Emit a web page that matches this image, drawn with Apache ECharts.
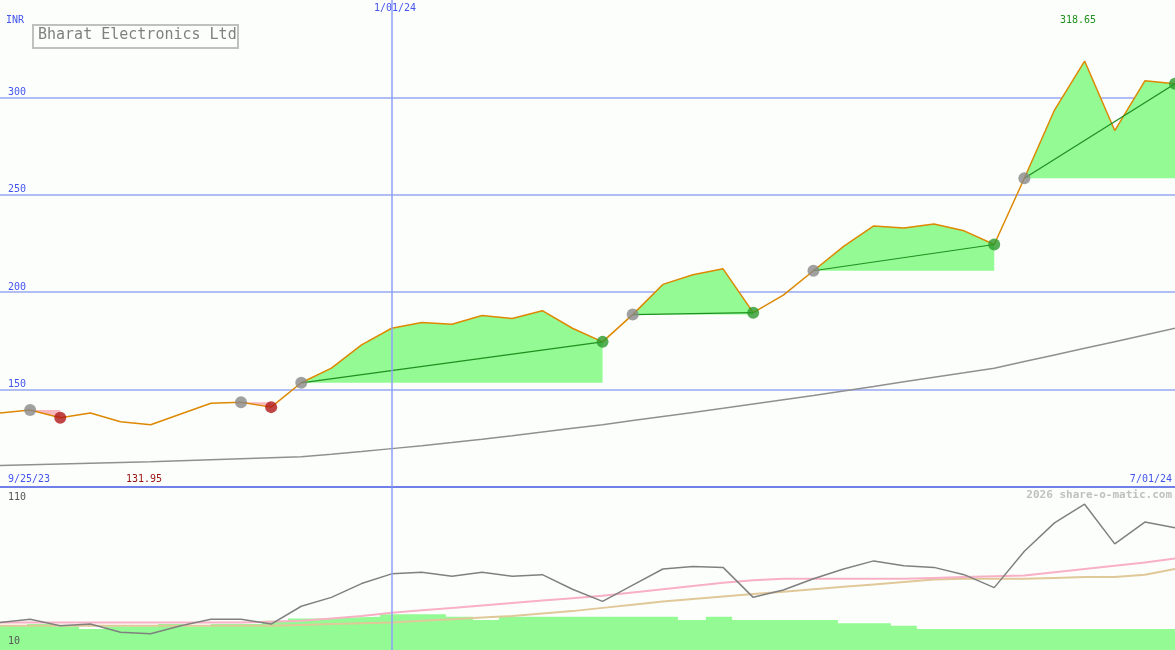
<!DOCTYPE html>
<html><head><meta charset="utf-8">
<script src="https://cdn.jsdelivr.net/npm/echarts@6/dist/echarts.min.js"></script>
<style>html,body{margin:0;background:#fcfefc}#c{width:1175px;height:650px}</style>
</head><body><div id="c"></div>
<script>
// weekly closes, 9/25/23 .. 7/01/24
var price = [138,139.5,135.5,138,133.5,131.95,137.5,143,143.5,141,153.5,161,173,181.5,184.5,183.5,188,186.5,190.5,181.5,
  174.5,188.5,204,209,212,189.5,198.5,211,223.5,234,233,235,231.5,224.5,258.5,293.5,318.65,283,308.5,307];
var longAvg = [111,111.4,111.8,112.2,112.6,113,113.5,114,114.5,115,115.5,116.8,118.2,119.7,121.2,122.8,124.5,126.3,128.2,130.1,
  132,134.1,136.2,138.3,140.4,142.6,144.8,147,149.3,151.6,154,156.3,158.6,161,164.4,167.8,171.2,174.6,178,181.5];
var trades = [[1,2],[8,9],[10,20],[21,25],[27,33],[34,39]];
var osc = [27,29,25,26,21,20,25,29,29,26,37,42.5,51,57,58,55.5,58,55.5,56.5,47.5,40,50,60,61.5,61,42.5,47,54,60,65,62,61,56.5,48.5,71,88.5,100,75.5,89,85.5];
var oscFast = [27,27,27,27,27,27,27,27,27,27.5,28,29.5,31,33,34.5,36,37.5,39,40.5,42,43.5,45.5,47.5,49.5,51.5,53,54,54,54,54,54,54.5,55,55.5,56,58,60,62,64,66.5];
var oscSlow = [25,25,25,25,25,25,25,25,25,25,25.5,26,26.5,27,28,29,30,31,32.5,34,36,38,40,41.5,43,44.5,46,47.5,49,50.5,52,53.5,54,54,54,54.5,55,55,56.5,60];
var volX = [0,0.9,1.73,2.62,3.48,5.24,6.07,7.0,8.7,9.56,10.42,12.61,14.8,15.7,16.56,22.5,23.43,24.3,27.81,29.57,30.43,33.95,39];
var volV = [25,24.5,26,24.5,23,24.5,26,24.5,26,28,29.5,30.5,32,30.5,28.5,30.5,28.5,30.5,28.5,26.5,25,23,23];
var dateLabels = ['9/25/23','1/01/24','7/01/24'];
var markIndex = 13;

var chart = echarts.init(document.getElementById('c'));
var F = 'DejaVu Sans Mono';
var pts = function (arr) { return arr.map(function (v, i) { return [i, v]; }); };

var series = [];
// shaded area between the price and the entry level of each trade
series.push({
  type: 'custom', data: trades, silent: true, z: 1,
  renderItem: function (params, api) {
    var s = api.value(0), e = api.value(1), base = price[s], win = price[e] > base;
    var poly = [api.coord([s, base])];
    for (var i = s; i <= e; i++) poly.push(api.coord([i, price[i]]));
    poly.push(api.coord([e, base]));
    return {type: 'polygon', shape: {points: poly}, style: {fill: win ? '#94fa94' : '#f8b8c0'}};
  }
});
series.push({type: 'line', data: pts(longAvg), symbol: 'none', lineStyle: {color: '#909090', width: 1.5}});
series.push({type: 'line', data: pts(price), symbol: 'none', lineStyle: {color: '#dd8800', width: 1.5},
  markLine: {symbol: 'none', silent: true, label: {show: false}, lineStyle: {color: '#8f9ff8', type: 'solid', width: 1.5, opacity: 1},
    data: [{xAxis: markIndex}]}});
trades.forEach(function (t) {
  var s = t[0], e = t[1], win = price[e] > price[s];
  if (win) series.push({type: 'line', data: [[s, price[s]], [e, price[e]]], symbol: 'none', lineStyle: {color: '#1f8f1f', width: 1.2}});
  series.push({type: 'scatter', data: [[s, price[s]]], symbolSize: 12, itemStyle: {color: '#888888'}, z: 5});
  series.push({type: 'scatter', data: [[e, price[e]]], symbolSize: 12, itemStyle: {color: win ? '#2a9a2a' : '#b01818'}, z: 5});
});
// lower panel
series.push({type: 'line', xAxisIndex: 1, yAxisIndex: 1, step: 'start', data: volX.map(function (x, i) { return [x, volV[i]]; }),
  symbol: 'none', lineStyle: {opacity: 0}, areaStyle: {color: '#94fa94', opacity: 1}});
series.push({type: 'line', xAxisIndex: 1, yAxisIndex: 1, data: pts(oscSlow), symbol: 'none', lineStyle: {color: '#e0c898', width: 2}});
series.push({type: 'line', xAxisIndex: 1, yAxisIndex: 1, data: pts(oscFast), symbol: 'none', lineStyle: {color: '#f8b0c4', width: 2}});
series.push({type: 'line', xAxisIndex: 1, yAxisIndex: 1, data: pts(osc), symbol: 'none', lineStyle: {color: '#808080', width: 1.5},
  markLine: {symbol: 'none', silent: true, label: {show: false}, lineStyle: {color: '#8f9ff8', type: 'solid', width: 1.5, opacity: 1},
    data: [{xAxis: markIndex}]}});

var maxP = Math.max.apply(null, price), minP = Math.min.apply(null, price);

option = {
  backgroundColor: '#fcfefc',
  animation: false,
  grid: [{left: 0, right: 0, top: 0, height: 487}, {left: 0, right: 0, top: 488, bottom: 0}],
  xAxis: [
    {type: 'value', min: 0, max: 39, axisLine: {lineStyle: {color: '#7080e8', width: 2}}, axisTick: {show: false},
      axisLabel: {show: false}, splitLine: {show: false}},
    {type: 'value', gridIndex: 1, min: 0, max: 39, show: false}
  ],
  yAxis: [
    {type: 'value', min: 100, max: 350, interval: 50, axisLine: {show: false}, axisTick: {show: false},
      splitLine: {showMaxLine: false, showMinLine: false, lineStyle: {color: '#98a8f4', width: 1.5}},
      axisLabel: {inside: true, verticalAlign: 'bottom', margin: 8, color: '#4455ee', fontFamily: F, fontSize: 10,
        showMinLabel: false, showMaxLabel: false}},
    {type: 'value', gridIndex: 1, min: 10, max: 110, show: false}
  ],
  graphic: [
    {type: 'text', z: 100, left: 6, top: 15, style: {text: 'INR', fill: '#4455ee', font: '10px ' + F}},
    {type: 'rect', z: 100, shape: {x: 33, y: 25, width: 205, height: 23}, style: {fill: '#fcfefc', stroke: '#c0c0c0', lineWidth: 2}},
    {type: 'text', z: 101, left: 38, top: 28, style: {text: 'Bharat Electronics Ltd', fill: '#808080', font: '15px ' + F}},
    {type: 'text', z: 100, left: 374, top: 3, style: {text: dateLabels[1], fill: '#4455ee', font: '10px ' + F}},
    {type: 'text', z: 100, left: 8, top: 474, style: {text: dateLabels[0], fill: '#4455ee', font: '10px ' + F}},
    {type: 'text', z: 100, right: 3, top: 474, style: {text: dateLabels[2], fill: '#4455ee', font: '10px ' + F}},
    {type: 'text', z: 100, left: 126, top: 474, style: {text: minP.toFixed(2), fill: '#991111', font: '10px ' + F}},
    {type: 'text', z: 100, left: 1060, top: 15, style: {text: maxP.toFixed(2), fill: '#1f8f1f', font: '10px ' + F}},
    {type: 'text', z: 100, left: 8, top: 492, style: {text: '110', fill: '#555555', font: '10px ' + F}},
    {type: 'text', z: 100, left: 8, top: 636, style: {text: '10', fill: '#555555', font: '10px ' + F}},
    {type: 'text', z: 100, right: 3, top: 490, style: {text: '2026 share-o-matic.com', fill: '#c0c0c0', font: 'bold 11px ' + F}}
  ],
  series: series
};
option && chart.setOption(option);
</script></body></html>
